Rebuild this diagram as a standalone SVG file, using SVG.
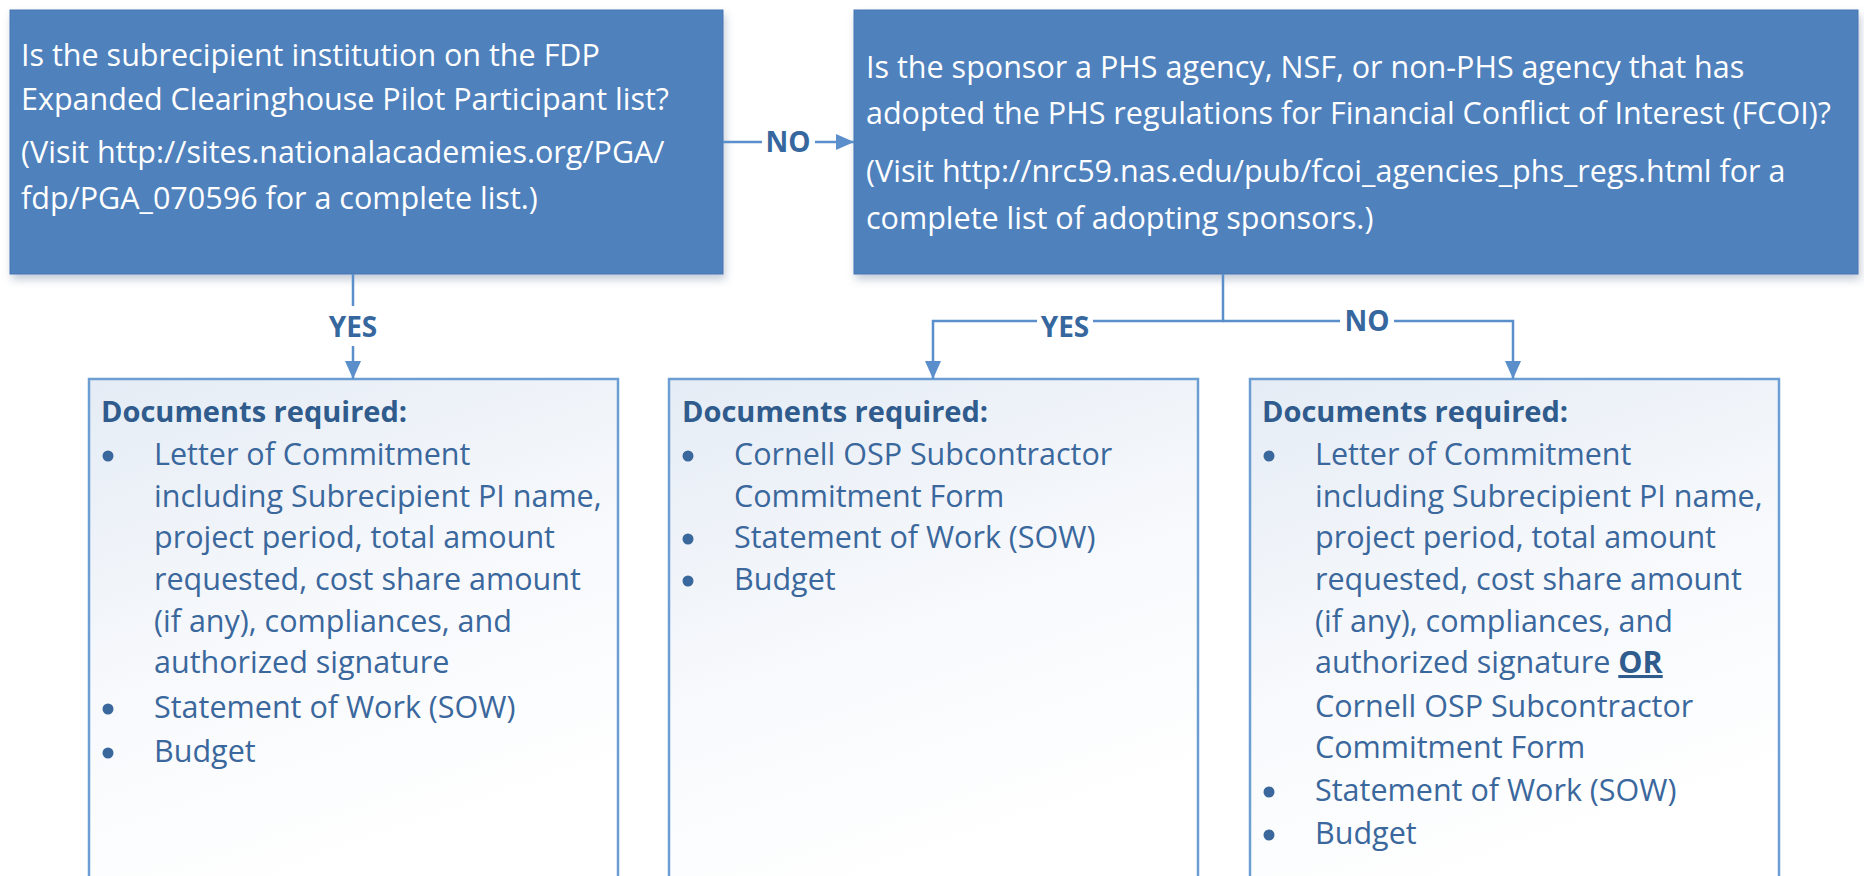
<svg xmlns="http://www.w3.org/2000/svg" width="1864" height="876" viewBox="0 0 1864 876">
<defs>
<style>
.q{font-family:"Open Sans","Liberation Sans",sans-serif;font-size:30.5px;fill:#ffffff}
.d{font-family:"Open Sans","Liberation Sans",sans-serif;font-size:30.5px;fill:#3a679c}
.h{font-weight:bold;font-size:29px;fill:#2f5b8d}
.lbl{font-family:"Open Sans","Liberation Sans",sans-serif;font-size:28px;font-weight:bold;fill:#36679e;text-anchor:middle}
.top{fill:#4f81bd;stroke:#4677b3;stroke-width:1}
.doc{fill:url(#g);stroke:#6d9ed3;stroke-width:2.5}
.c{fill:none;stroke:#5b8fcc;stroke-width:2.5}
.b{fill:#3a679c}
</style>
<linearGradient id="g" x1="0" y1="0" x2="0.35" y2="1">
<stop offset="0" stop-color="#e5ecf5"/>
<stop offset="0.55" stop-color="#f7f9fc"/>
<stop offset="1" stop-color="#ffffff"/>
</linearGradient>
<filter id="sh" x="-5%" y="-5%" width="110%" height="120%">
<feDropShadow dx="2" dy="5" stdDeviation="4" flood-color="#7a8ea8" flood-opacity="0.45"/>
</filter>
<marker id="ar" markerWidth="18" markerHeight="16" refX="18" refY="8" orient="auto" markerUnits="userSpaceOnUse">
<path d="M0,0 L18,8 L0,16 Z" fill="#5b8fcc"/>
</marker>
</defs>
<rect width="1864" height="876" fill="#ffffff"/>

<g id="q1">
<rect class="top" x="10" y="10" width="713" height="264" filter="url(#sh)"/>
<text class="q" x="21" y="66">Is the subrecipient institution on the FDP</text>
<text class="q" x="21" y="110">Expanded Clearinghouse Pilot Participant list?</text>
<text class="q" x="21" y="163">(Visit http://sites.nationalacademies.org/PGA/</text>
<text class="q" x="21" y="209">fdp/PGA_070596 for a complete list.)</text>
</g>

<g id="q2">
<rect class="top" x="854" y="10" width="1004" height="264" filter="url(#sh)"/>
<text class="q" x="866" y="78">Is the sponsor a PHS agency, NSF, or non-PHS agency that has</text>
<text class="q" x="866" y="124">adopted the PHS regulations for Financial Conflict of Interest (FCOI)?</text>
<text class="q" x="866" y="182">(Visit http://nrc59.nas.edu/pub/fcoi_agencies_phs_regs.html for a</text>
<text class="q" x="866" y="229">complete list of adopting sponsors.)</text>
</g>

<g id="docA">
<rect class="doc" x="89" y="379" width="529" height="520"/>
<text class="d h" x="101" y="422">Documents required:</text>
<circle class="b" cx="108" cy="456" r="5.5"/>
<text class="d" x="154" y="465">Letter of Commitment</text>
<text class="d" x="154" y="507">including Subrecipient PI name,</text>
<text class="d" x="154" y="548">project period, total amount</text>
<text class="d" x="154" y="590">requested, cost share amount</text>
<text class="d" x="154" y="632">(if any), compliances, and</text>
<text class="d" x="154" y="673">authorized signature</text>
<circle class="b" cx="108" cy="709" r="5.5"/>
<text class="d" x="154" y="718">Statement of Work (SOW)</text>
<circle class="b" cx="108" cy="753" r="5.5"/>
<text class="d" x="154" y="762">Budget</text>
</g>

<g id="docB">
<rect class="doc" x="669" y="379" width="529" height="520"/>
<text class="d h" x="682" y="422">Documents required:</text>
<circle class="b" cx="688" cy="456" r="5.5"/>
<text class="d" x="734" y="465">Cornell OSP Subcontractor</text>
<text class="d" x="734" y="507">Commitment Form</text>
<circle class="b" cx="688" cy="539" r="5.5"/>
<text class="d" x="734" y="548">Statement of Work (SOW)</text>
<circle class="b" cx="688" cy="581" r="5.5"/>
<text class="d" x="734" y="590">Budget</text>
</g>

<g id="docC">
<rect class="doc" x="1250" y="379" width="529" height="520"/>
<text class="d h" x="1262" y="422">Documents required:</text>
<circle class="b" cx="1269" cy="456" r="5.5"/>
<text class="d" x="1315" y="465">Letter of Commitment</text>
<text class="d" x="1315" y="507">including Subrecipient PI name,</text>
<text class="d" x="1315" y="548">project period, total amount</text>
<text class="d" x="1315" y="590">requested, cost share amount</text>
<text class="d" x="1315" y="632">(if any), compliances, and</text>
<text class="d" x="1315" y="673">authorized signature <tspan font-weight="bold" fill="#2f5b8d" text-decoration="underline">OR</tspan></text>
<text class="d" x="1315" y="717">Cornell OSP Subcontractor</text>
<text class="d" x="1315" y="758">Commitment Form</text>
<circle class="b" cx="1269" cy="792" r="5.5"/>
<text class="d" x="1315" y="801">Statement of Work (SOW)</text>
<circle class="b" cx="1269" cy="835" r="5.5"/>
<text class="d" x="1315" y="844">Budget</text>
</g>

<g id="connectors">
<line class="c" x1="723" y1="142" x2="762" y2="142"/>
<line class="c" x1="815" y1="142" x2="854" y2="142" marker-end="url(#ar)"/>
<text class="lbl" x="788" y="152">NO</text>

<line class="c" x1="353" y1="274" x2="353" y2="306"/>
<line class="c" x1="353" y1="346" x2="353" y2="379" marker-end="url(#ar)"/>
<text class="lbl" x="353" y="337">YES</text>

<polyline class="c" points="1223,274 1223,321 1093,321"/>
<polyline class="c" points="1037,321 933,321 933,379" marker-end="url(#ar)"/>
<text class="lbl" x="1065" y="337">YES</text>
<line class="c" x1="1223" y1="321" x2="1340" y2="321"/>
<polyline class="c" points="1394,321 1513,321 1513,379" marker-end="url(#ar)"/>
<text class="lbl" x="1367" y="331">NO</text>
</g>
</svg>
